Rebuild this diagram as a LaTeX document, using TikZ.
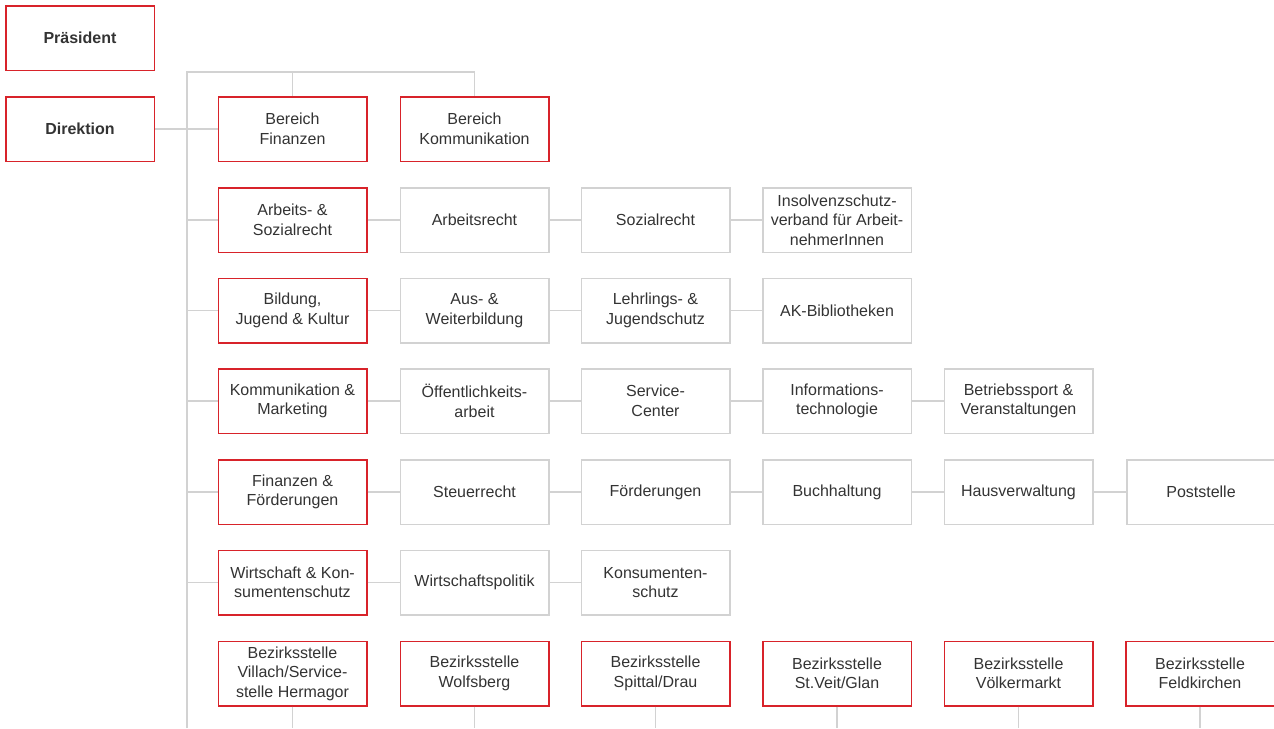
\documentclass[tikz,border=0pt]{standalone}
\usepackage{fontspec}
\setmainfont{Liberation Sans}
\usetikzlibrary{calc}
\definecolor{akred}{HTML}{D8232A}
\definecolor{akgray}{HTML}{D2D2D2}
\definecolor{aktext}{HTML}{333333}

\begin{document}
\begin{tikzpicture}[x=1pt, y=-1pt,
    box/.style={draw=akgray, line width=1.5pt, minimum width=148.5pt, minimum height=64.5pt,
      inner sep=0pt, align=center, text=aktext, font=\fontsize{16}{19.5}\selectfont},
    redbox/.style={box, draw=akred},
    chief/.style={redbox, font=\fontsize{16}{19.5}\selectfont\bfseries},
    link/.style={draw=akgray, line width=1.5pt}]
    \useasboundingbox (0,0) rectangle (1274,728);

    % leitung
    \node[chief] (praes) at (80,38) {Präsident};
    \node[chief] (dir) at (80,129) {Direktion};

    % bereiche
    \node[redbox] (fin) at (292.5,129) {Bereich\\Finanzen};
    \node[redbox] (komm) at (474.5,129) {Bereich\\Kommunikation};

    % abteilungen
    \node[redbox] (as) at (292.5,220) {Arbeits- \&\\Sozialrecht};
    \node[box] (ar) at (474.5,220) {Arbeitsrecht};
    \node[box] (sr) at (655.5,220) {Sozialrecht};
    \node[box] (isv) at (837,220) {Insolvenzschutz-\\verband für Arbeit-\\nehmerInnen};

    \node[redbox] (bjk) at (292.5,310.5) {Bildung,\\Jugend \& Kultur};
    \node[box] (aw) at (474.5,310.5) {Aus- \&\\Weiterbildung};
    \node[box] (lj) at (655.5,310.5) {Lehrlings- \&\\Jugendschutz};
    \node[box] (akb) at (837,310.5) {AK-Bibliotheken};

    \node[redbox] (km) at (292.5,401) {Kommunikation \&\\Marketing};
    \node[box] (oea) at (474.5,401) {Öffentlichkeits-\\arbeit};
    \node[box] (sc) at (655.5,401) {Service-\\Center};
    \node[box] (it) at (837,401) {Informations-\\technologie};
    \node[box] (bv) at (1018.5,401) {Betriebssport \&\\Veranstaltungen};

    \node[redbox] (ff) at (292.5,492) {Finanzen \&\\Förderungen};
    \node[box] (st) at (474.5,492) {Steuerrecht};
    \node[box] (foe) at (655.5,492) {Förderungen};
    \node[box] (bh) at (837,492) {Buchhaltung};
    \node[box] (hv) at (1018.5,492) {Hausverwaltung};
    \node[box] (ps) at (1201,492) {Poststelle};

    \node[redbox] (wk) at (292.5,582.5) {Wirtschaft \& Kon-\\sumentenschutz};
    \node[box] (wp) at (474.5,582.5) {Wirtschaftspolitik};
    \node[box] (ks) at (655.5,582.5) {Konsumenten-\\schutz};

    % bezirksstellen
    \node[redbox] (bz1) at (292.5,673.5) {Bezirksstelle\\Villach/Service-\\stelle Hermagor};
    \node[redbox] (bz2) at (474.5,673.5) {Bezirksstelle\\Wolfsberg};
    \node[redbox] (bz3) at (655.5,673.5) {Bezirksstelle\\Spittal/Drau};
    \node[redbox] (bz4) at (837,673.5) {Bezirksstelle\\St.Veit/Glan};
    \node[redbox] (bz5) at (1018.5,673.5) {Bezirksstelle\\Völkermarkt};
    \node[redbox] (bz6) at (1200,673.5) {Bezirksstelle\\Feldkirchen};

    % verbindungen
    \coordinate (top) at (187,72);
    \coordinate (bot) at (187,728);
    \draw[link] (bot) -- (top) -| (komm.north);
    \draw[link] (fin.north |- top) -- (fin.north);
    \draw[link] (dir) -- (fin);
    \foreach \n in {as,bjk,km,ff,wk} {
      \draw[link] (top |- \n.west) -- (\n.west);
    }
    \foreach \a/\b in {as/ar, ar/sr, sr/isv, bjk/aw, aw/lj, lj/akb,
        km/oea, oea/sc, sc/it, it/bv, ff/st, st/foe, foe/bh, bh/hv, hv/ps,
        wk/wp, wp/ks} {
      \draw[link] (\a) -- (\b);
    }
    \foreach \n in {bz1,bz2,bz3,bz4,bz5,bz6} {
      \draw[link] (\n.south) -- (\n.south |- bot);
    }
\end{tikzpicture}
\end{document}
